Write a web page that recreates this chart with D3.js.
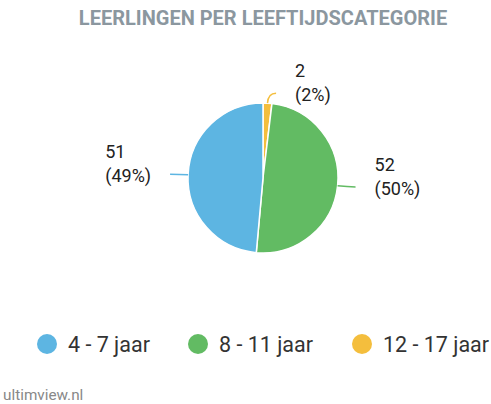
<!DOCTYPE html>
<html>
<head>
<meta charset="utf-8">
<script src="https://cdn.jsdelivr.net/npm/d3@7"></script>
<style>
  body { margin: 0; background: #fff; }
  svg { display: block; font-family: Roboto, sans-serif; }
</style>
</head>
<body>
<svg class="chart" width="491" height="404"></svg>
<script>
const categories = ["12 - 17 jaar", "8 - 11 jaar", "4 - 7 jaar"];
const values = [2, 52, 51];
const percents = ["2%", "50%", "49%"];
const colors = ["#f4be3d", "#62bb63", "#5db5e2"];
const legendOrder = ["4 - 7 jaar", "8 - 11 jaar", "12 - 17 jaar"];

const svg = d3.select(".chart");
const width = 491;

const cx = 263, cy = 178, radius = 75;

svg.append("text")
  .attr("x", 263)
  .attr("y", 25)
  .attr("text-anchor", "middle")
  .attr("font-size", 20)
  .attr("font-weight", "bold")
  .attr("fill", "#8b979f")
  .text("LEERLINGEN PER LEEFTIJDSCATEGORIE");

const color = d3.scaleOrdinal().domain(categories).range(colors);

const pie = d3.pie().sort(null).value((d) => d.value);
const data = categories.map((c, i) => ({ cat: c, value: values[i], pct: percents[i] }));
const arcs = pie(data);

const arc = d3.arc().innerRadius(0).outerRadius(radius);

const g = svg.append("g").attr("transform", `translate(${cx}, ${cy})`);

g.selectAll("path.slice")
  .data(arcs)
  .enter()
  .append("path")
  .attr("class", "slice")
  .attr("d", arc)
  .attr("fill", (d) => color(d.data.cat))
  .attr("stroke", "#fff")
  .attr("stroke-width", 1.5);

// leader lines + labels
arcs.forEach((d) => {
  const mid = (d.startAngle + d.endAngle) / 2;
  const sx = Math.sin(mid), sy = -Math.cos(mid);
  const p0 = [sx * radius, sy * radius];
  const p1 = [sx * (radius + 10), sy * (radius + 10)];
  const side = sx >= 0 ? 1 : -1;
  const p2 = [p1[0] + side * 8, p1[1]];

  g.append("path")
    .attr("d", `M${p0[0]},${p0[1]} Q${p1[0]},${p1[1]} ${p2[0]},${p2[1]}`)
    .attr("fill", "none")
    .attr("stroke", color(d.data.cat))
    .attr("stroke-width", 1.5);

  const t = g.append("text")
    .attr("font-size", 18)
    .attr("fill", "#222");
  t.append("tspan").attr("x", 0).attr("y", p2[1] - 16).text(d.data.value);
  t.append("tspan").attr("x", 0).attr("y", p2[1] + 8).text(`(${d.data.pct})`);

  let tx = p2[0] + side * 19;
  if (side < 0) {
    const w = t.node().getBBox().width;
    tx = tx - w;
  }
  t.selectAll("tspan").attr("x", tx);
});

// legend
const legendX = [47, 198, 362];
const legend = svg.append("g");
legendOrder.forEach((c, i) => {
  legend.append("circle")
    .attr("cx", legendX[i])
    .attr("cy", 344)
    .attr("r", 10)
    .attr("fill", color(c));
  legend.append("text")
    .attr("x", legendX[i] + 21)
    .attr("y", 352)
    .attr("font-size", 21.5)
    .attr("fill", "#333")
    .text(c);
});

svg.append("text")
  .attr("x", 3)
  .attr("y", 400)
  .attr("font-size", 15.3)
  .attr("fill", "#888")
  .text("ultimview.nl");
</script>
</body>
</html>
